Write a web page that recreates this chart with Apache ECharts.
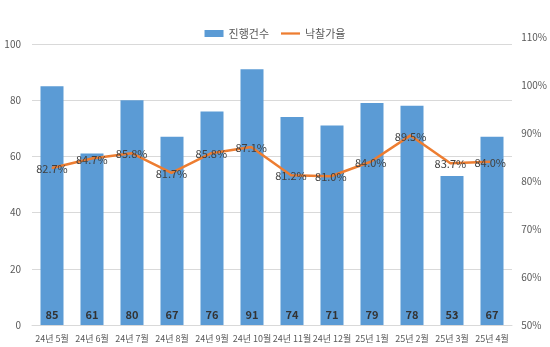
<!DOCTYPE html>
<html>
<head>
<meta charset="utf-8">
<script src="https://cdn.jsdelivr.net/npm/echarts@6/dist/echarts.min.js"></script>
<style>
html,body{margin:0;padding:0;background:#fff;}
#chart{width:550px;height:347px;}
</style>
</head>
<body>
<div id="chart"></div>
<script>
const categories = ['24년 5월','24년 6월','24년 7월','24년 8월','24년 9월','24년 10월','24년 11월','24년 12월','25년 1월','25년 2월','25년 3월','25년 4월'];
const countValues = [85, 61, 80, 67, 76, 91, 74, 71, 79, 78, 53, 67];
const rateValues = [82.7, 84.7, 85.8, 81.7, 85.8, 87.1, 81.2, 81.0, 84.0, 89.5, 83.7, 84.0];
const seriesNames = ['진행건수', '낙찰가율'];

const FONT = "'Noto Sans CJK KR', 'Liberation Sans', sans-serif";
const chart = echarts.init(document.getElementById('chart'), null, {renderer: 'canvas'});
chart.setOption({
  animation: false,
  backgroundColor: '#ffffff',
  textStyle: {fontFamily: FONT},
  legend: {
    top: 23,
    left: 'center',
    itemGap: 12,
    textStyle: {fontSize: 11, color: '#595959', fontFamily: FONT},
    data: [
      {name: seriesNames[0], icon: 'rect', itemStyle: {color: '#5B9BD5'}},
      {name: seriesNames[1], icon: 'path://M0,4 L21,4 L21,6.5 L0,6.5 Z', itemStyle: {color: '#ED7D31'}}
    ],
    itemWidth: 19,
    itemHeight: 7
  },
  grid: [
    {left: 32, right: 38, top: 44, bottom: 22},
    {left: 32, right: 38, top: 37, bottom: 22}
  ],
  xAxis: [
    {
      type: 'category', gridIndex: 0, data: categories,
      axisLine: {show: true, lineStyle: {color: '#d9d9d9'}},
      axisTick: {show: false},
      axisLabel: {fontSize: 9, color: '#595959', margin: 9, interval: 0, fontFamily: FONT}
    },
    {type: 'category', gridIndex: 1, data: categories, show: false}
  ],
  yAxis: [
    {
      type: 'value', gridIndex: 0, min: 0, max: 100, interval: 20,
      axisLine: {show: false}, axisTick: {show: false},
      splitLine: {lineStyle: {color: '#d9d9d9', width: 1}},
      axisLabel: {fontSize: 10, color: '#595959', margin: 11, fontFamily: FONT}
    },
    {
      type: 'value', gridIndex: 1, position: 'right', min: 50, max: 110, interval: 10,
      axisLine: {show: false}, axisTick: {show: false},
      splitLine: {show: false},
      axisLabel: {fontSize: 10, color: '#595959', margin: 11, formatter: '{value}%', fontFamily: FONT}
    }
  ],
  series: [
    {
      name: seriesNames[0], type: 'bar', xAxisIndex: 0, yAxisIndex: 0,
      data: countValues, barWidth: 23,
      itemStyle: {color: '#5B9BD5'},
      label: {show: true, position: 'insideBottom', distance: 5, fontSize: 11, fontWeight: 'bold', color: '#333333', fontFamily: FONT}
    },
    {
      name: seriesNames[1], type: 'line', xAxisIndex: 1, yAxisIndex: 1,
      data: rateValues, showSymbol: true, symbol: 'circle', symbolSize: 1,
      lineStyle: {color: '#ED7D31', width: 2.5},
      itemStyle: {color: '#ED7D31'},
      label: {show: true, position: 'top', distance: 0, offset: [0, 7], fontSize: 11, color: '#404040', fontFamily: FONT,
        formatter: p => p.value.toFixed(1) + '%'},
      z: 3
    }
  ]
});
</script>
</body>
</html>
